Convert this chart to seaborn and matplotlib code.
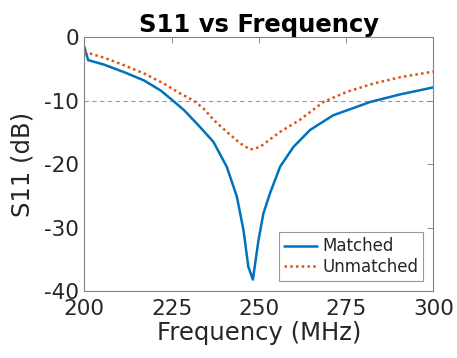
import matplotlib
matplotlib.use("Agg")
import matplotlib.pyplot as plt
import seaborn as sns
import pandas as pd

# Data
freq_matched = [200, 201.1, 205.6, 211.4, 217.1, 221.9, 225.2, 228.6, 232.4, 236.2,
                237.0, 240.8, 243.7, 245.6, 247.0, 248.3, 249.9, 251.3, 253.2, 256.1,
                259.9, 264.7, 271.3, 281.9, 290.5, 300]
s11_matched = [-1.5, -3.6, -4.3, -5.5, -6.8, -8.4, -9.9, -11.5, -13.7, -16.0,
               -16.5, -20.4, -25.1, -30.4, -36.2, -38.2, -32.0, -27.8, -24.6, -20.4,
               -17.3, -14.6, -12.3, -10.2, -9.0, -7.9]
freq_unmatched = [200, 205.6, 211.4, 217.1, 222.8, 227.6, 231.4, 234.3, 237.0, 240.8,
                  244.6, 247.5, 250.3, 253.2, 256.1, 261.8, 268.5, 275.2, 282.8,
                  290.5, 300]
s11_unmatched = [-2.3, -3.2, -4.4, -5.7, -7.3, -8.9, -10.0, -11.3, -13.0, -14.9,
                 -16.7, -17.7, -17.3, -16.1, -14.9, -13.0, -10.2, -8.6, -7.3,
                 -6.3, -5.4]
x_ticks = [200, 225, 250, 275, 300]
y_ticks = [0, -10, -20, -30, -40]
title = "S11 vs Frequency"
xlabel = "Frequency (MHz)"
ylabel = "S11 (dB)"

sns.set_style("white")
plt.rcParams["font.family"] = ["DejaVu Sans"]
plt.rcParams["axes.unicode_minus"] = False

fig = plt.figure(figsize=(4.57, 3.58), dpi=100)
ax = fig.add_axes([0.1845, 0.1872, 0.9482 - 0.1845, 0.8958 - 0.1872])

df_m = pd.DataFrame({"f": freq_matched, "s": s11_matched})
df_u = pd.DataFrame({"f": freq_unmatched, "s": s11_unmatched})
sns.lineplot(data=df_m, x="f", y="s", ax=ax, color="#0072BD", linewidth=1.8,
             label="Matched", sort=False)
sns.lineplot(data=df_u, x="f", y="s", ax=ax, color="#D95319", linewidth=1.8,
             linestyle=(0, (1, 1.3)), label="Unmatched", sort=False)
ax.axhline(-10, color="#999999", linestyle=(0, (4, 3)), linewidth=0.8, zorder=0)

ax.set_xlim(200, 300)
ax.set_ylim(-40, 0)
ax.set_xticks(x_ticks)
ax.set_yticks(y_ticks)
ax.set_xticklabels([str(t) for t in x_ticks])
ax.set_yticklabels([str(t) for t in y_ticks])

txt = "#262626"
ax.tick_params(direction="in", length=4, width=0.6, colors="#808080",
               labelcolor=txt, labelsize=15.5, top=True, right=True)
ax.tick_params(axis="x", pad=6)
ax.tick_params(axis="y", pad=4)
for sp in ax.spines.values():
    sp.set_visible(True)
    sp.set_color("#808080")
    sp.set_linewidth(0.8)

ax.set_title(title, fontsize=17.5, fontweight="bold", color="black", pad=4)
ax.set_xlabel(xlabel, fontsize=17.5, color=txt, labelpad=1)
ax.set_ylabel(ylabel, fontsize=17.5, color=txt, labelpad=7)

leg = ax.legend(loc="lower right", fontsize=12, frameon=True, fancybox=False,
                handlelength=2.0, handletextpad=0.3, borderpad=0.3,
                labelspacing=0.15, borderaxespad=0.6)
leg.get_frame().set_edgecolor("#808080")
leg.get_frame().set_linewidth(0.8)
for t in leg.get_texts():
    t.set_color(txt)

fig.savefig("out.png", dpi=100)
